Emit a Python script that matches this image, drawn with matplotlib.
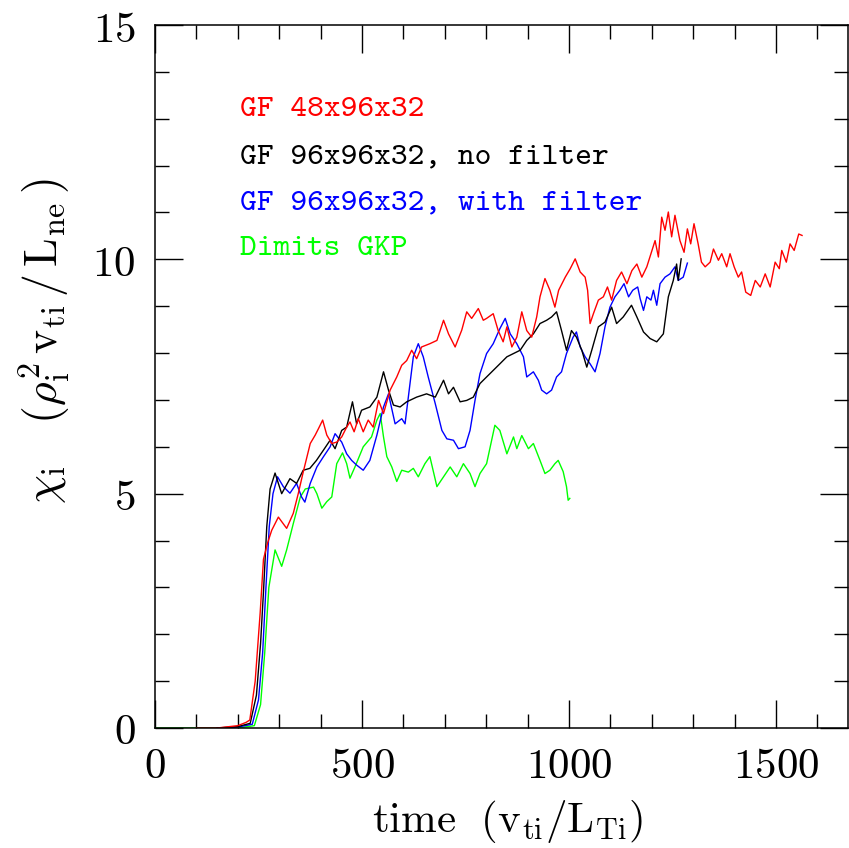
import matplotlib
matplotlib.use("Agg")
import matplotlib.pyplot as plt
from matplotlib.ticker import MultipleLocator, FuncFormatter

plt.rcParams['mathtext.fontset'] = 'cm'
plt.rcParams['font.family'] = ['DejaVu Serif']

# GF 48x96x32 (red)
red_t = [100, 150, 200, 220, 229, 242, 254, 262, 272, 282, 298, 318, 334, 346, 358, 375, 387, 395, 405, 415,
         427, 439, 451, 463, 471, 481, 491, 503, 515, 527, 540, 552, 568, 584, 596, 608, 620, 632, 644, 664,
         681, 697, 709, 725, 741, 753, 765, 781, 793, 801, 817, 829, 841, 850, 862, 874, 886, 898, 910, 922,
         930, 942, 954, 966, 975, 991, 1003, 1015, 1027, 1039, 1045, 1051, 1059, 1071, 1083, 1093, 1103, 1115,
         1127, 1140, 1152, 1164, 1176, 1188, 1198, 1208, 1216, 1224, 1232, 1240, 1248, 1256, 1268, 1278, 1286,
         1294, 1302, 1312, 1320, 1329, 1341, 1349, 1361, 1369, 1381, 1389, 1399, 1409, 1417, 1427, 1439, 1450,
         1462, 1474, 1486, 1498, 1508, 1514, 1525, 1534, 1544, 1555, 1563]
red_y = [0.0, 0.0, 0.05, 0.12, 0.17, 1.0, 2.45, 3.6, 3.95, 4.22, 4.50, 4.26, 4.58, 5.00, 5.46, 6.07, 6.25, 6.39, 6.57, 6.25,
         6.07, 6.10, 6.21, 6.42, 6.53, 6.32, 6.60, 6.32, 6.57, 6.42, 6.99, 6.71, 7.21, 7.49, 7.74, 7.84, 8.06, 7.88, 8.13, 8.20,
         8.27, 8.70, 8.41, 8.13, 8.49, 8.88, 8.74, 8.95, 8.70, 8.74, 8.84, 8.48, 8.24, 8.56, 8.13, 8.34, 8.88, 8.48, 8.34, 8.77,
         9.20, 9.59, 9.34, 8.98, 9.34, 9.62, 9.80, 10.01, 9.73, 9.62, 9.34, 8.63, 8.84, 9.13, 9.20, 9.41, 9.13, 9.55,
         9.73, 9.48, 9.76, 9.90, 9.62, 9.84, 10.12, 10.40, 10.05, 10.90, 10.62, 11.01, 10.48, 10.94, 10.40, 10.15, 10.65,
         10.33, 10.76, 10.33, 9.94, 9.84, 9.94, 10.22, 9.98, 10.12, 9.84, 10.12, 9.84, 9.62, 9.73, 9.30, 9.23, 9.55,
         9.41, 9.69, 9.41, 9.94, 9.80, 10.19, 9.94, 10.33, 10.19, 10.54, 10.51]

# GF 96x96x32, no filter (black)
black_t = [150, 200, 230, 245, 255, 262, 270, 278, 290, 306, 326, 342, 358, 374, 390, 407, 423, 435, 451, 463,
           477, 487, 499, 519, 536, 552, 564, 576, 592, 608, 632, 656, 677, 697, 709, 721, 737, 753, 769, 785,
           801, 817, 833, 850, 866, 882, 898, 914, 930, 946, 958, 970, 982, 994, 1006, 1018, 1031, 1043, 1055,
           1071, 1087, 1103, 1115, 1131, 1151, 1164, 1180, 1196, 1212, 1228, 1240, 1252, 1260, 1264, 1271]
black_y = [0.0, 0.03, 0.1, 0.7, 1.8, 2.9, 4.3, 5.1, 5.44, 5.00, 5.32, 5.22, 5.50, 5.54, 5.71, 5.93, 6.14, 5.96, 6.35, 6.42,
           6.96, 6.49, 6.78, 6.85, 7.06, 7.60, 7.21, 6.89, 6.85, 6.96, 7.06, 7.13, 7.06, 7.42, 7.13, 7.27, 6.96, 6.99, 7.06, 7.35,
           7.49, 7.63, 7.77, 7.92, 7.99, 8.06, 8.27, 8.41, 8.63, 8.70, 8.77, 8.88, 8.48, 8.06, 8.48, 8.34, 8.06, 7.70, 8.06,
           8.56, 8.66, 8.98, 8.63, 8.77, 9.02, 8.77, 8.45, 8.31, 8.24, 8.41, 9.20, 9.55, 9.90, 9.55, 10.01]

# GF 96x96x32, with filter (blue)
blue_t = [150, 200, 235, 250, 260, 268, 276, 285, 296, 310, 326, 342, 354, 362, 375, 391, 407, 423, 435, 451,
          463, 475, 487, 503, 519, 536, 552, 564, 580, 596, 604, 616, 624, 636, 648, 660, 677, 693, 705, 721,
          733, 749, 761, 773, 785, 801, 817, 833, 846, 858, 874, 890, 898, 914, 926, 934, 946, 958, 970, 982,
          994, 1010, 1018, 1027, 1039, 1051, 1063, 1075, 1087, 1099, 1111, 1123, 1133, 1144, 1154, 1166, 1172,
          1180, 1188, 1198, 1204, 1212, 1220, 1232, 1244, 1256, 1264, 1276, 1286]
blue_y = [0.0, 0.02, 0.08, 0.6, 1.6, 3.0, 4.3, 5.0, 5.36, 5.15, 5.01, 5.22, 4.93, 4.82, 5.22, 5.57, 5.79, 6.00, 6.28, 6.10,
          5.85, 5.71, 5.61, 5.50, 5.71, 6.25, 6.85, 7.13, 6.49, 6.60, 6.49, 7.35, 7.92, 8.20, 7.92, 7.49, 6.92, 6.35, 6.17, 6.14,
          5.96, 6.00, 6.35, 6.99, 7.56, 7.99, 8.20, 8.52, 8.74, 8.41, 8.20, 7.92, 7.49, 7.60, 7.42, 7.21, 7.13, 7.21, 7.49, 7.60,
          7.99, 8.34, 8.45, 8.13, 7.92, 7.77, 7.60, 7.99, 8.56, 8.98, 9.20, 9.34, 9.48, 9.20, 9.34, 9.41, 9.16,
          8.91, 9.20, 9.13, 9.34, 9.02, 9.48, 9.62, 9.69, 9.84, 9.55, 9.62, 9.92]

# Dimits GKP (green)
green_t = [0, 100, 200, 240, 255, 265, 275, 290, 306, 318, 334, 351, 363, 383, 391, 403, 415, 427, 439, 453,
           463, 471, 483, 503, 523, 536, 544, 552, 560, 572, 584, 596, 612, 624, 636, 652, 664, 681, 697, 713,
           729, 745, 761, 773, 785, 801, 821, 833, 850, 866, 874, 886, 902, 914, 930, 942, 954, 966, 974, 986,
           994, 998, 1002]
green_y = [0.0, 0.0, 0.0, 0.05, 0.5, 1.6, 3.0, 3.80, 3.45, 3.80, 4.36, 4.93, 5.10, 5.14, 5.00, 4.69, 4.83, 4.93, 5.64, 5.87,
           5.64, 5.33, 5.57, 6.00, 6.21, 6.57, 6.71, 6.21, 5.79, 5.57, 5.26, 5.50, 5.46, 5.54, 5.36, 5.64, 5.79, 5.15, 5.36, 5.57,
           5.36, 5.64, 5.43, 5.15, 5.43, 5.64, 6.46, 6.35, 5.85, 6.21, 5.96, 6.24, 5.96, 6.07, 5.71, 5.43, 5.50, 5.64, 5.71, 5.47,
           5.15, 4.86, 4.90]

labels = ["GF 48x96x32", "GF 96x96x32, no filter", "GF 96x96x32, with filter", "Dimits GKP"]
colors = ["#ff0000", "#000000", "#0000ff", "#00ff00"]

W, H = 849, 848
fig = plt.figure(figsize=(W / 100, H / 100), dpi=100)
ax = fig.add_axes([155 / W, (H - 728) / H, (848 - 155) / W, (728 - 25) / H])

ax.plot(green_t, green_y, color=colors[3], lw=1.0)
ax.plot(blue_t, blue_y, color=colors[2], lw=1.0)
ax.plot(black_t, black_y, color=colors[1], lw=1.0)
ax.plot(red_t, red_y, color=colors[0], lw=1.0)

ax.set_xlim(0, 1674)
ax.set_ylim(0, 15)
ax.xaxis.set_major_locator(MultipleLocator(500))
ax.xaxis.set_minor_locator(MultipleLocator(100))
ax.yaxis.set_major_locator(MultipleLocator(5))
ax.yaxis.set_minor_locator(MultipleLocator(1))
fmt = FuncFormatter(lambda v, p: r"$%d$" % int(round(v)))
ax.xaxis.set_major_formatter(fmt)
ax.yaxis.set_major_formatter(fmt)
ax.tick_params(which='both', direction='in', top=True, right=True, width=1.0, colors='black')
ax.tick_params(which='major', length=20, labelsize=31)
ax.tick_params(which='minor', length=10)
ax.tick_params(axis='x', which='major', pad=12)
ax.tick_params(axis='y', which='major', pad=14)
for s in ax.spines.values():
    s.set_linewidth(1.1)

ax.text(0.508, -0.133, r"$\mathrm{time\ \ (v_{ti}/L_{Ti})}$", transform=ax.transAxes,
        ha='center', va='center', fontsize=31)
ax.text(-0.16, 0.55,
        r"$\chi_{\mathrm{i}}\ \ \ (\rho_{\mathrm{i}}^{2}\,\mathrm{v_{ti}}\,/\,\mathrm{L_{ne}}\,)$",
        transform=ax.transAxes, ha='center', va='center', fontsize=33, rotation=90)

tx = 205
ty = [13.18, 12.18, 11.19, 10.21]
for lab, c, yy in zip(labels, colors, ty):
    ax.text(tx, yy, lab, color=c, fontsize=23, ha='left', va='center',
            family=['cmtt10', 'Liberation Mono', 'DejaVu Sans Mono'])

fig.savefig("out.png", dpi=100)
